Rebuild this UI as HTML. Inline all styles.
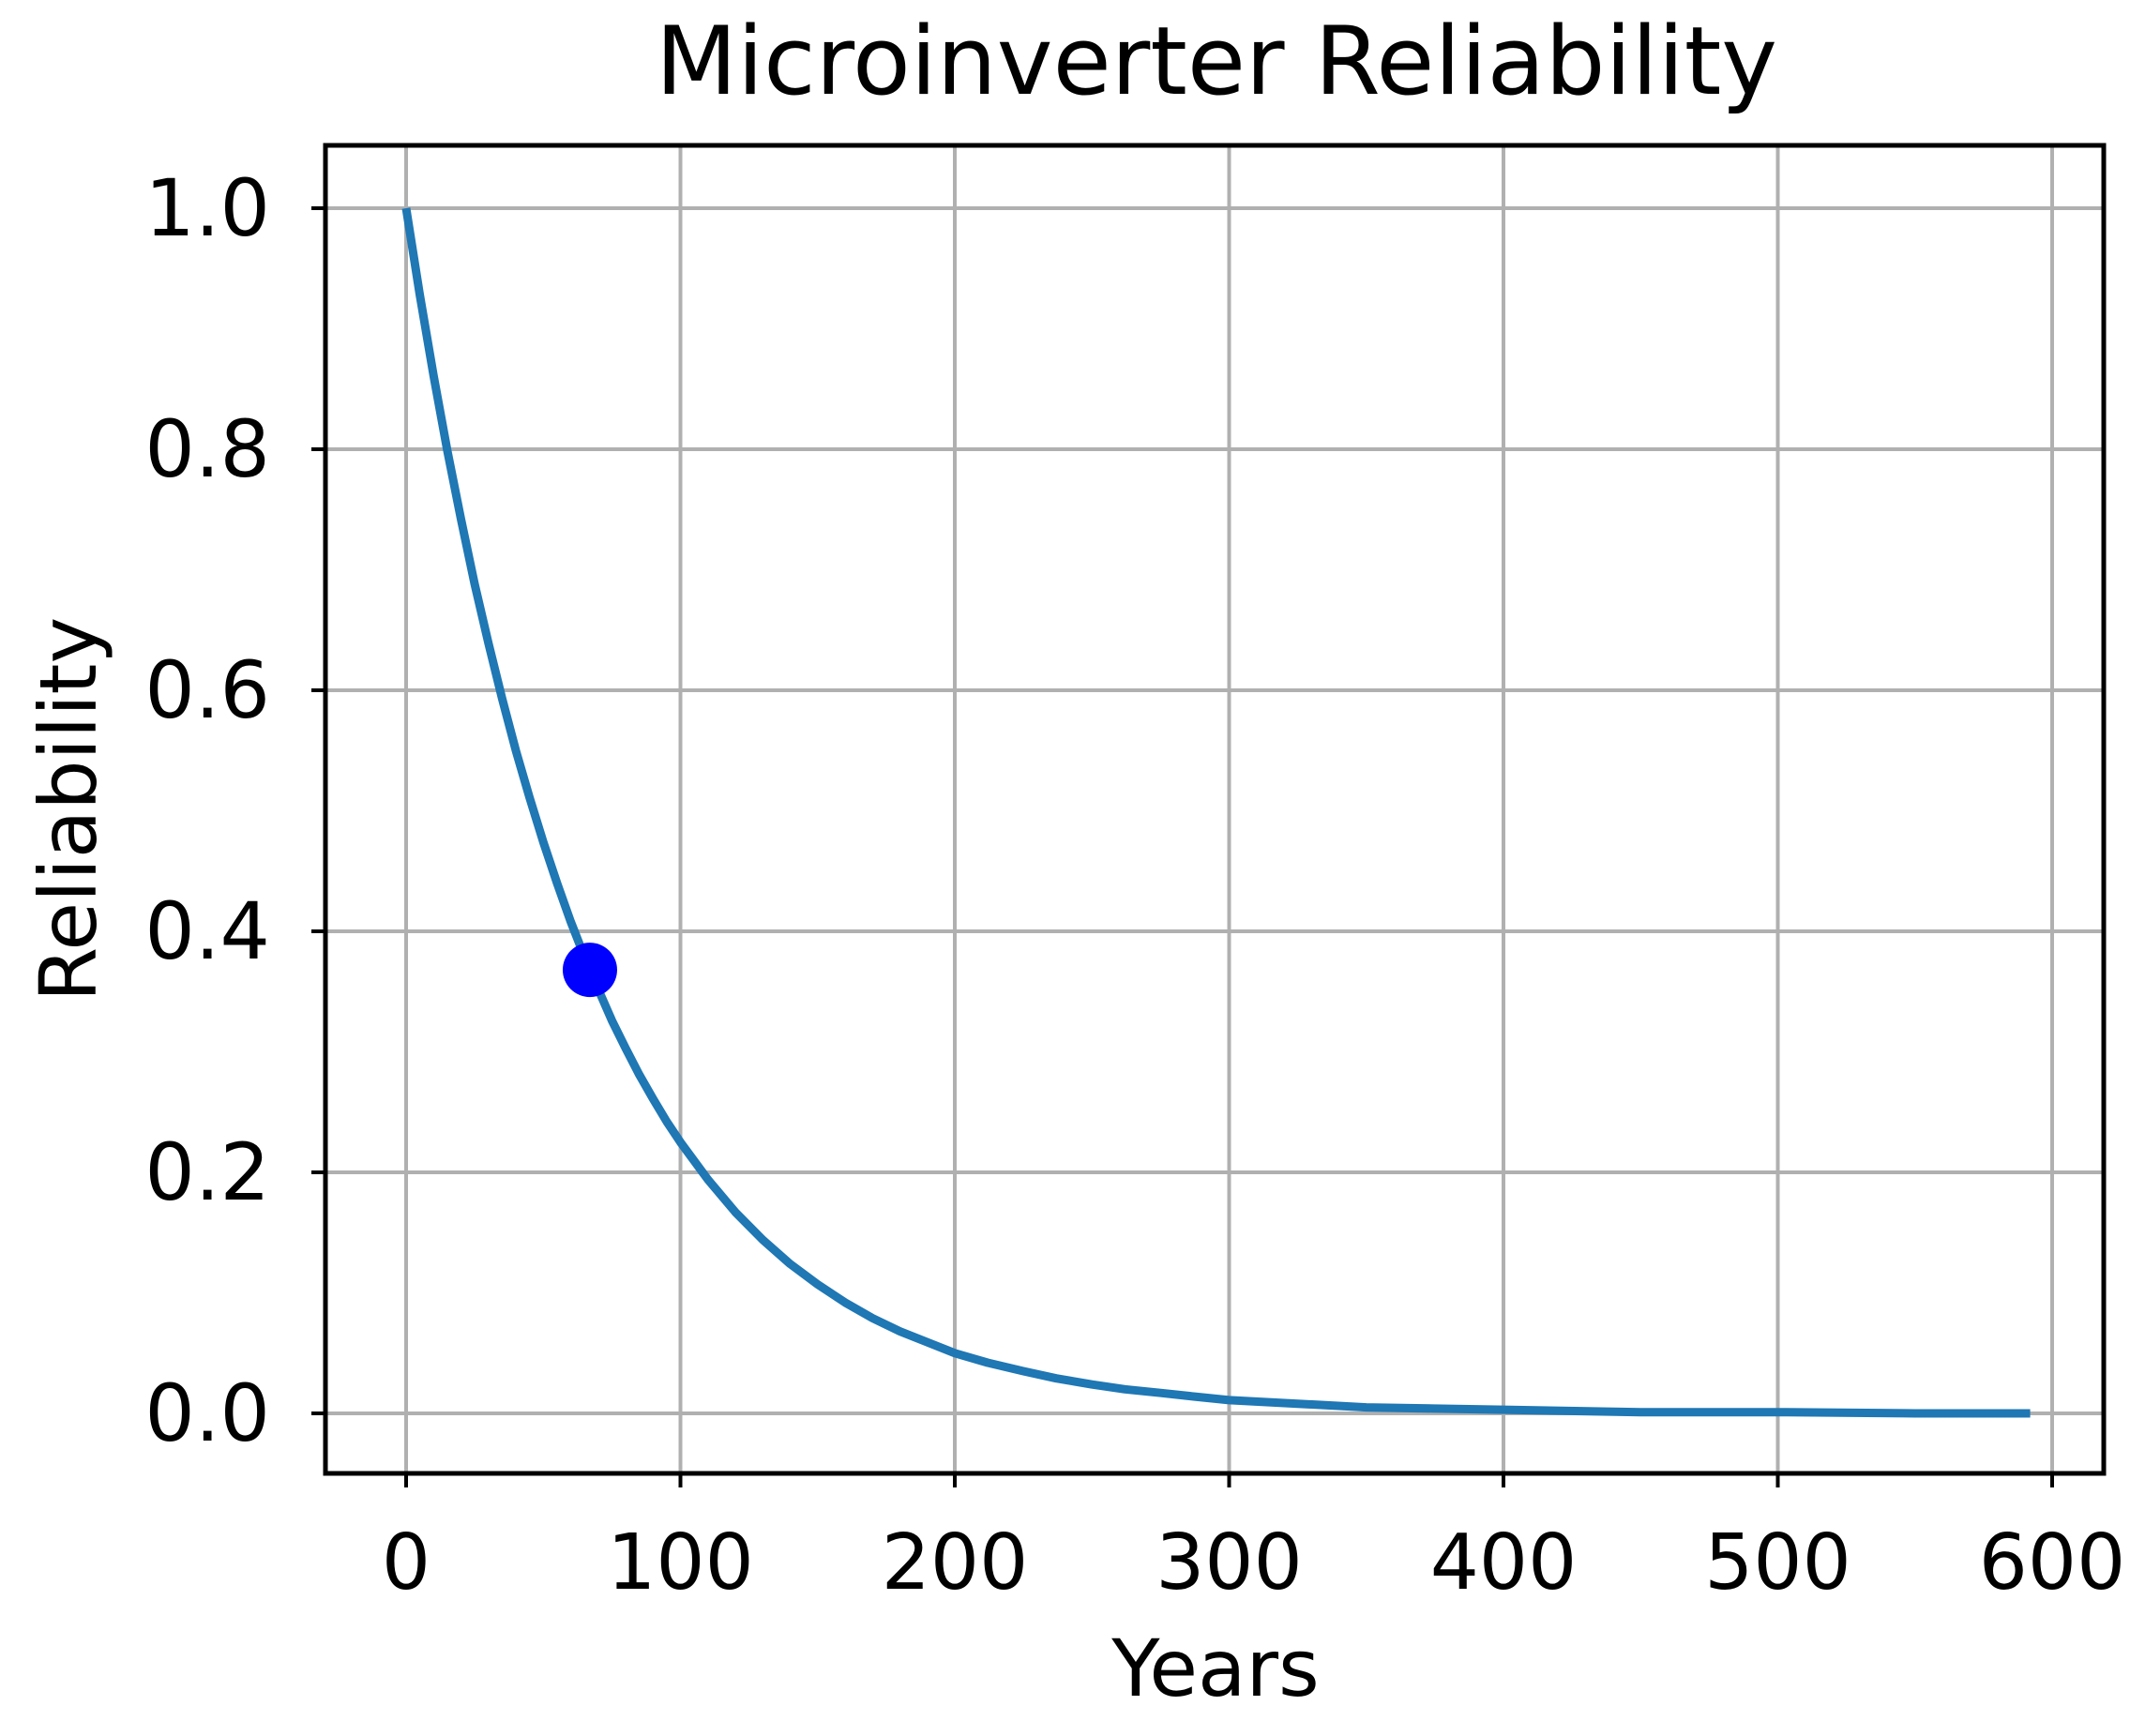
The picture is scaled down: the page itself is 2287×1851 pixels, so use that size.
<!DOCTYPE html>
<html><head><meta charset="utf-8">
<style>
html,body{margin:0;padding:0;background:#fff;}
svg text{font-family:"DejaVu Sans","Liberation Sans",sans-serif;fill:#000;}
</style></head>
<body>
<svg id="chart" width="2287" height="1846" viewBox="0 0 2287 1846" xmlns="http://www.w3.org/2000/svg">
<rect width="2287" height="1846" fill="#fff"/>
<g id="grid"></g>
<g id="ticks"></g>
<g id="series"></g>
<rect x="347" y="155" width="1896" height="1416" fill="none" stroke="#000" stroke-width="5"/>
<text x="1297" y="100" font-size="101" text-anchor="middle">Microinverter Reliability</text>
<text x="1296" y="1808" font-size="84" text-anchor="middle">Years</text>
<text transform="translate(102,863) rotate(-90)" font-size="84" text-anchor="middle">Reliability</text>
</svg>
<script>
const xTicks = [0,100,200,300,400,500,600];
const yTicks = [0.0,0.2,0.4,0.6,0.8,1.0];
const yTickLabels = ["0.0","0.2","0.4","0.6","0.8","1.0"];
const years = [0,5,10,15,20,25,30,35,40,45,50,55,60,65,70,75,80,85,90,95,100,110,120,130,140,150,160,170,180,190,200,212,225,237,250,262,275,287,300,325,350,375,400,450,500,550,592];
const reliability = [1,0.928,0.861,0.799,0.742,0.688,0.639,0.593,0.550,0.511,0.474,0.440,0.408,0.379,0.352,0.326,0.303,0.281,0.261,0.242,0.225,0.194,0.167,0.144,0.124,0.107,0.092,0.079,0.068,0.059,0.050,0.042,0.035,0.029,0.024,0.020,0.017,0.014,0.011,0.008,0.005,0.004,0.003,0.001,0.001,0,0];
const markerYear = [67];
const markerValue = [0.368];

const NS="http://www.w3.org/2000/svg";
const xS = v => 433 + v*(2188-433)/600;
const yS = v => 1507 - v*(1507-222);
function mk(tag, attrs, parent){const e=document.createElementNS(NS,tag);for(const k in attrs)e.setAttribute(k,attrs[k]);parent.appendChild(e);return e;}
const grid=document.getElementById('grid'), ticks=document.getElementById('ticks'), series=document.getElementById('series');

xTicks.forEach(t=>{
  const x=xS(t);
  const g=mk('line',{x1:x,x2:x,y1:155,y2:1571,stroke:'#b0b0b0','stroke-width':4},grid);
  
  
  const tk=mk('line',{x1:x,x2:x,y1:1571,y2:1586,stroke:'#000','stroke-width':4},ticks);
  
  
  const l=mk('text',{x:x,y:1694,'font-size':82,'text-anchor':'middle'},ticks);
  l.textContent=String(t);
  
  
});
yTicks.forEach((t,i)=>{
  const y=yS(t);
  const g=mk('line',{x1:347,x2:2243,y1:y,y2:y,stroke:'#b0b0b0','stroke-width':4},grid);
  
  
  const tk=mk('line',{x1:332,x2:347,y1:y,y2:y,stroke:'#000','stroke-width':4},ticks);
  
  
  const l=mk('text',{x:288,y:y+29,'font-size':84,'text-anchor':'end'},ticks);
  l.textContent=yTickLabels[i];
  
  
});
const d=years.map((t,i)=>(i?'L':'M')+xS(t).toFixed(1)+','+yS(reliability[i]).toFixed(1)).join(' ');
const p=mk('path',{d:d,fill:'none',stroke:'#1f77b4','stroke-width':9,'stroke-linejoin':'round'},series);


markerYear.forEach((t,i)=>{
  const c=mk('circle',{cx:xS(t),cy:yS(markerValue[i]),r:29,fill:'#0000ff'},series);
  
  
});
</script>
</body></html>
